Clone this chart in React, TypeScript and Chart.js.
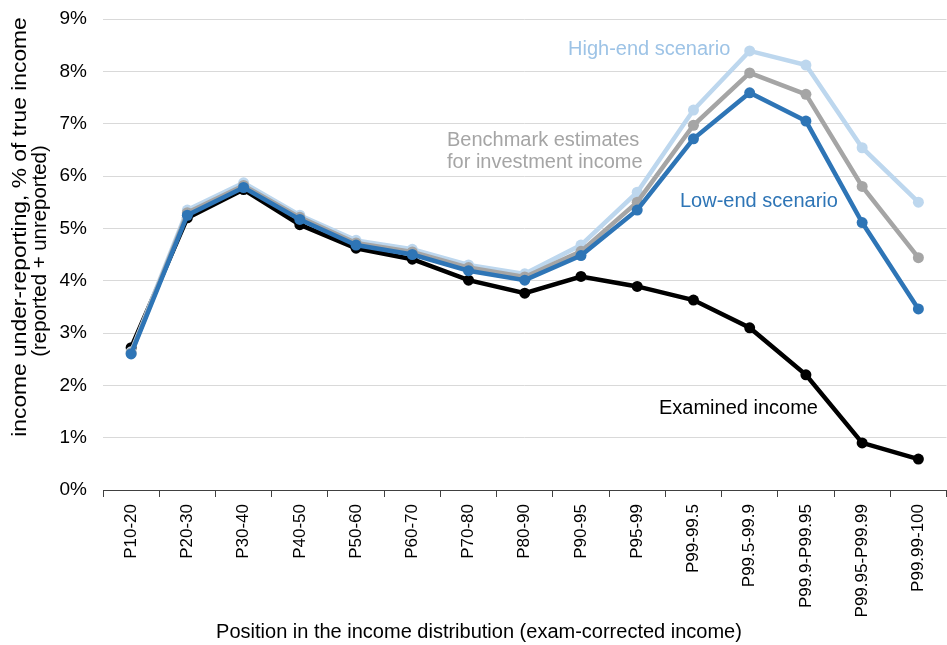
import React, { useEffect, useRef } from "react";
import { Chart, registerables } from "chart.js";

Chart.register(...registerables);

const categories = [
  "P10-20", "P20-30", "P30-40", "P40-50", "P50-60", "P60-70", "P70-80", "P80-90",
  "P90-95", "P95-99", "P99-99.5", "P99.5-99.9", "P99.9-P99.95", "P99.95-P99.99", "P99.99-100",
];

const examinedIncome = [2.72, 5.2, 5.74, 5.07, 4.62, 4.41, 4.01, 3.76, 4.08, 3.89, 3.63, 3.1, 2.2, 0.9, 0.59];
const lowEnd = [2.6, 5.25, 5.78, 5.17, 4.68, 4.5, 4.19, 4.01, 4.48, 5.35, 6.71, 7.59, 7.05, 5.11, 3.46];
const benchmark = [2.62, 5.3, 5.82, 5.21, 4.72, 4.55, 4.25, 4.07, 4.56, 5.5, 6.97, 7.97, 7.56, 5.8, 4.44];
const highEnd = [2.64, 5.35, 5.87, 5.25, 4.77, 4.6, 4.3, 4.13, 4.68, 5.69, 7.26, 8.39, 8.12, 6.54, 5.5];

const yTitleLines = ["income under-reporting, % of true income", "(reported + unreported)"];
const xTitle = "Position in the income distribution (exam-corrected income)";

const FONT = "'Liberation Sans', Arial, sans-serif";

export default function App() {
  const ref = useRef<HTMLCanvasElement>(null);

  useEffect(() => {
    if (!ref.current) return;

    const textPlugin = {
      id: "labels",
      afterDraw(chart: any) {
        const ctx = chart.ctx;
        ctx.save();
        ctx.textBaseline = "middle";
        ctx.font = `20px ${FONT}`;
        ctx.textAlign = "left";
        ctx.fillStyle = "#9DC3E6";
        ctx.fillText("High-end scenario", 568, 49);
        ctx.fillStyle = "#A5A5A5";
        ctx.fillText("Benchmark estimates", 447, 140);
        ctx.fillText("for investment income", 447, 162);
        ctx.fillStyle = "#2E75B6";
        ctx.fillText("Low-end scenario", 680, 201);
        ctx.fillStyle = "#000000";
        ctx.fillText("Examined income", 659, 408);
        ctx.textAlign = "center";
        ctx.fillText(xTitle, 479, 632);
        // y-axis title (two lines, rotated)
        const lines = [
          { text: yTitleLines[0], x: 20, y: 227, sx: 1.14 },
          { text: yTitleLines[1], x: 40, y: 251, sx: 1.02 },
        ];
        for (const l of lines) {
          ctx.save();
          ctx.translate(l.x, l.y);
          ctx.rotate(-Math.PI / 2);
          ctx.scale(l.sx, 1);
          ctx.fillText(l.text, 0, 0);
          ctx.restore();
        }
        ctx.restore();
      },
    };

    const mk = (label: string, data: number[], color: string, order: number) => ({
      label,
      data,
      borderColor: color,
      backgroundColor: color,
      pointBackgroundColor: color,
      pointBorderColor: color,
      borderWidth: 4.5,
      pointRadius: 5.5,
      pointBorderWidth: 0,
      tension: 0,
      order,
    });

    const chart = new Chart(ref.current, {
      type: "line",
      data: {
        labels: categories,
        datasets: [
          mk("Examined income", examinedIncome, "#000000", 3),
          mk("High-end scenario", highEnd, "#BDD7EE", 2),
          mk("Benchmark estimates for investment income", benchmark, "#A5A5A5", 1),
          mk("Low-end scenario", lowEnd, "#2E75B6", 0),
        ],
      },
      options: {
        responsive: false,
        animation: false,
        layout: { padding: { top: 19, right: 0, left: 0, bottom: 0 } },
        plugins: {
          legend: { display: false },
          tooltip: { enabled: false },
        },
        scales: {
          x: {
            type: "category",
            offset: true,
            afterFit: (s: any) => { s.height = 155; },
            grid: {
              offset: true,
              drawOnChartArea: false,
              drawTicks: true,
              tickLength: 7,
              color: "#404040",
            },
            border: { display: true, color: "#404040", width: 1 },
            ticks: {
              autoSkip: false,
              maxRotation: 90,
              minRotation: 90,
              padding: 7,
              color: "#000000",
              font: { family: FONT, size: 17 },
            },
          },
          y: {
            min: 0,
            max: 9,
            afterFit: (s: any) => { s.width = 103; },
            grid: {
              color: "#D9D9D9",
              drawTicks: true,
              tickLength: 14,
              tickColor: "rgba(0,0,0,0)",
              lineWidth: 1,
            },
            border: { display: false },
            ticks: {
              stepSize: 1,
              padding: 2,
              color: "#000000",
              font: { family: FONT, size: 19 },
              callback: (v: any) => `${v}%`,
            },
          },
        },
      },
      plugins: [textPlugin],
    });

    return () => chart.destroy();
  }, []);

  return (
    <div style={{ position: "fixed", left: 0, top: 0, width: 947, height: 645, overflow: "hidden", background: "#fff" }}>
      <canvas ref={ref} width={952} height={645} style={{ display: "block" }} />
    </div>
  );
}
